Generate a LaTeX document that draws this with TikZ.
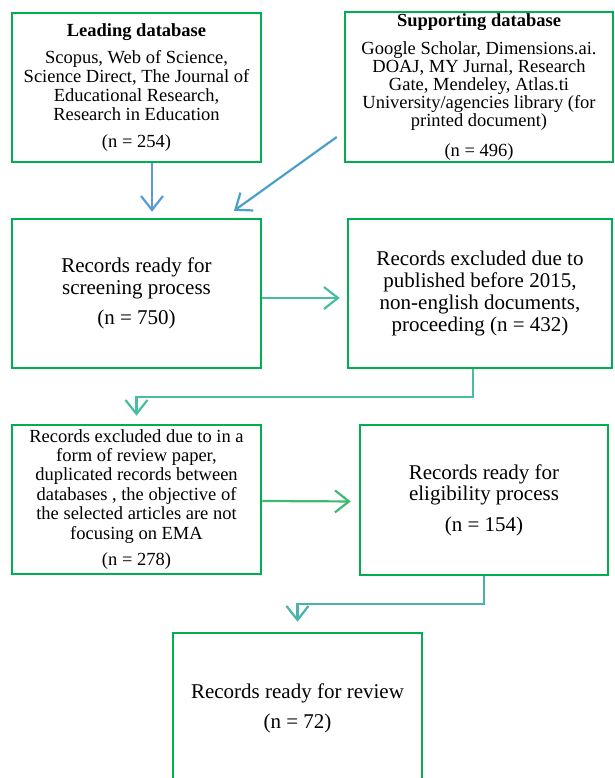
\documentclass[tikz,border=0pt]{standalone}
\usepackage{fontspec}
\setmainfont{Liberation Serif}
\usepackage{xcolor}
\usepackage{tikz}
\usetikzlibrary{arrows.meta, positioning, calc}
\definecolor{boxgreen}{RGB}{0, 176, 80}
\definecolor{arrowblue}{RGB}{91, 155, 213}
\definecolor{arrowsky}{RGB}{75, 160, 198}
\definecolor{arrowteal}{RGB}{72, 190, 160}
\definecolor{arrowgreen}{RGB}{64, 186, 110}
\definecolor{arrowsea}{RGB}{75, 178, 172}

\begin{document}
\begin{tikzpicture}[
    x=1pt, y=-1pt,
    box/.style={rectangle, draw=boxgreen, line width=2.5pt, fill=white, minimum width=249pt, minimum height=149pt, inner sep=2pt, align=center},
    smalltext/.style={font=\fontsize{18.5}{19}\selectfont},
    bigtext/.style={font=\fontsize{21}{21.5}\selectfont},
    arrow/.style={-{Straight Barb[length=14pt, width=22pt]}, line width=2.2pt}
]
\useasboundingbox (0,0) rectangle (614,778);

% Identification
\node[box, smalltext] (lead) at (136.5,87.5) {\textbf{Leading database}\\[8pt]
  Scopus, Web of Science,\\Science Direct, The Journal of\\Educational Research,\\Research in Education\\[8pt](n = 254)};
\node[box, font=\fontsize{18.5}{18}\selectfont, minimum width=268pt, minimum height=150pt, inner sep=0pt] (supp) at (479,87) {\textbf{Supporting database}\\[10pt]
  Google Scholar, Dimensions.ai.\\DOAJ, MY Jurnal, Research\\Gate, Mendeley, Atlas.ti\\University/agencies\ library (for\\printed document)\\[12pt](n = 496)};

% Screening
\node[box, bigtext] (screen) at (136.5,293.5) {Records ready for\\screening process\\[9pt](n = 750)};
\node[box, font=\fontsize{21}{21.8}\selectfont, minimum width=264pt] (excl1) at (480,293.5) {Records excluded due to\\published before 2015,\\non-english documents,\\proceeding (n = 432)};

% Eligibility
\node[box, font=\fontsize{18.5}{19.4}\selectfont] (excl2) at (136.5,499.5) {Records excluded due to in a\\form of review paper,\\duplicated records between\\databases , the objective of\\the selected articles are not\\focusing on EMA\\[7.5pt](n = 278)};
\node[box, bigtext, minimum width=248pt, minimum height=150pt] (elig) at (484,500) {Records ready for\\eligibility process\\[9pt](n = 154)};

% Included
\node[box, bigtext, minimum height=150pt] (review) at (297.5,708) {Records ready for review\\[8.5pt](n = 72)};

% Arrows
\draw[arrow, arrowblue, shorten >=6pt] ([xshift=15.5pt]lead.south) -- ([xshift=15.5pt]screen.north);
\draw[arrow, arrowsky] ([xshift=-7pt, yshift=-50pt]supp.west) -- ([xshift=97.5pt, yshift=7pt]screen.north);
\draw[arrow, arrowteal, shorten >=7pt] ([yshift=-4.5pt]screen.east) -- ([yshift=-4.5pt]excl1.west);
\draw[arrow, arrowteal, shorten >=8pt] ([xshift=-7pt]excl1.south) -- ++(0,28) -| (excl2.north);
\draw[arrow, arrowgreen, shorten >=8pt] ([yshift=-1.5pt]excl2.east) -- ([yshift=-1.5pt]elig.west);
\draw[arrow, arrowsea, shorten >=10pt] (elig.south) -- ++(0,28) -| (review.north);
\end{tikzpicture}
\end{document}
